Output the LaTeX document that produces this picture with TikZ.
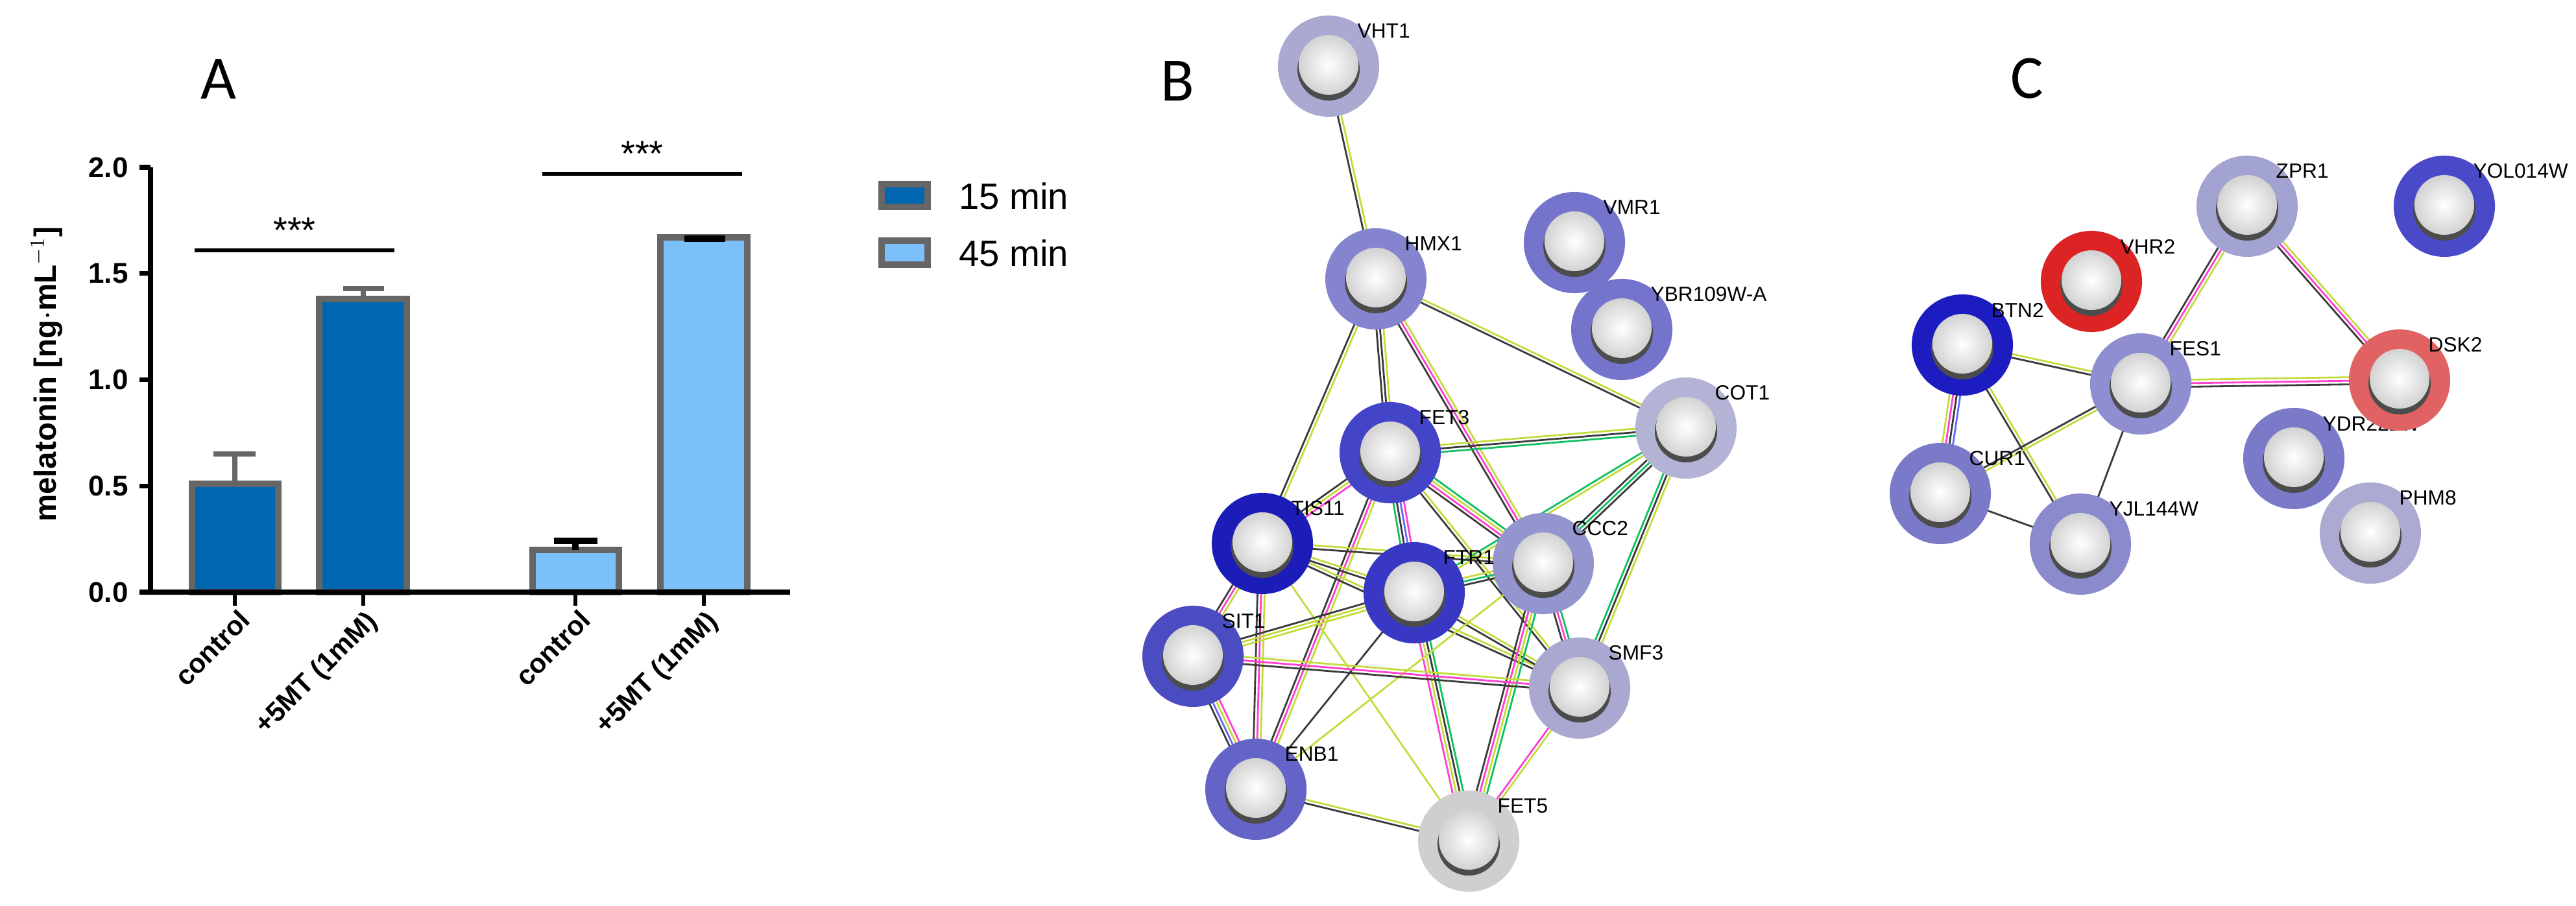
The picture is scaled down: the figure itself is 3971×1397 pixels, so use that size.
\documentclass[tikz,border=0pt]{standalone}
\usepackage{fontspec}
\setmainfont{Liberation Sans}
\newfontfamily\panelfont{Carlito}
\usetikzlibrary{calc,shadings}
\definecolor{db}{HTML}{0066B0}
\definecolor{lb}{HTML}{7CC0FB}
\definecolor{bord}{HTML}{666666}
\definecolor{ek}{HTML}{3A3A3A}
\definecolor{ey}{HTML}{C3DC3C}
\definecolor{em}{HTML}{FF40D0}
\definecolor{eg}{HTML}{10C060}
\definecolor{eb}{HTML}{6868FF}
\pgfdeclarelayer{background}
\pgfsetlayers{background,main}
\newcommand\edg[4]{%
 \foreach \ecol [count=\eidx] in {#4}{%
  \pgfmathsetmacro\eoff{(\eidx-(#3+1)/2)*0.055}%
  \draw[\ecol, line width=0.8pt] ($(#1.center)!\eoff cm!90:(#2.center)$) -- ($(#2.center)!\eoff cm!-90:(#1.center)$);}}
\newcommand\prot[5]{%
 \definecolor{c#1}{HTML}{#4}%
 \node[circle, minimum size=1.56cm, fill=c#1, inner sep=0pt] (#1) at (#2,#3) {};
 \fill[gray!60!black] (#1.center) ++(0,5) circle (0.48cm);
 \shade[inner color=white, outer color=gray!35] (#1.center) ++(0,-2) circle (0.46cm);
 \node[lab] at ($(#1.center)+(44,-54)$) {#5};}
\tikzset{lab/.style={anchor=west, font=\fontsize{9}{10}\selectfont, inner sep=0pt},
 bar/.style={draw=bord, line width=2.6pt},
 tl/.style={anchor=east, font=\bfseries\fontsize{12.5}{14}\selectfont},
 xl/.style={anchor=east, rotate=45, font=\bfseries\fontsize{12}{14}\selectfont, inner sep=0pt},
 panel/.style={font=\panelfont\fontsize{27}{30}\selectfont}}
\begin{document}
\begin{tikzpicture}[x=0.01cm,y=-0.01cm]
\useasboundingbox (0,0) rectangle (3971,1397);
%% Panel A
\node[panel] at (337,122) {A};
\draw[bar, fill=db] (296,913) rectangle (429,746);
\draw[bar, fill=db] (492,913) rectangle (627,461);
\draw[bar, fill=lb] (821,913) rectangle (954,848);
\draw[bar, fill=lb] (1018,913) rectangle (1152,366);
\draw[bord, line width=2pt] (362,746) -- (362,700) (329,700) -- (394,700);
\draw[bord, line width=2pt] (560,461) -- (560,445) (529,445) -- (592,445);
\draw[black, line width=3pt] (887,848) -- (887,834) (854,834) -- (921,834);
\draw[black, line width=3pt] (1055,368) -- (1118,368);
\draw[line width=2pt] (232,258) -- (232,913) -- (1218,913);
\foreach \v/\t in {0/0.0,0.5/0.5,1/1.0,1.5/1.5,2/2.0}{
  \draw[line width=2pt] (215,913-\v*327.5) -- (232,913-\v*327.5);
  \node[tl] at (210,913-\v*327.5) {\t};}
\foreach \x in {362,560,887,1085} \draw[line width=1.6pt] (\x,913) -- (\x,934);
\node[xl] at (378,948) {control};
\node[xl] at (576,952) {+5MT (1mM)};
\node[xl] at (903,948) {control};
\node[xl] at (1101,952) {+5MT (1mM)};
\node[rotate=90, font=\bfseries\fontsize{13.5}{15}\selectfont] at (72,577) {melatonin [ng$\cdot$mL$^{-1}$]};
\draw[line width=1.6pt] (300,386) -- (608,386);
\node[font=\fontsize{16}{18}\selectfont] at (454,355) {***};
\draw[line width=1.6pt] (836,268) -- (1144,268);
\node[font=\fontsize{16}{18}\selectfont] at (990,237) {***};
\draw[bar, fill=db] (1359,284) rectangle (1430,319);
\draw[bar, fill=lb] (1359,371) rectangle (1430,408);
\node[anchor=west, font=\fontsize{16}{18}\selectfont] at (1466,302) {15 min};
\node[anchor=west, font=\fontsize{16}{18}\selectfont] at (1466,390) {45 min};
%% Panel B
\node[panel] at (1815,125) {B};
\prot{VHT1}{2048}{102}{A9A9D2}{VHT1}
\prot{HMX1}{2121}{430}{8585CF}{HMX1}
\prot{VMR1}{2427}{374}{7474CC}{VMR1}
\prot{YBR}{2500}{508}{7474CC}{YBR109W-A}
\prot{COT1}{2599}{660}{B3B3D6}{COT1}
\prot{FET3}{2143}{698}{4444C8}{FET3}
\prot{TIS11}{1946}{838}{1C1CB8}{TIS11}
\prot{CCC2}{2379}{869}{9494CE}{CCC2}
\prot{FTR1}{2180}{914}{3838C4}{FTR1}
\prot{SIT1}{1839}{1012}{4C4CC2}{SIT1}
\prot{SMF3}{2435}{1061}{A8A8D0}{SMF3}
\prot{ENB1}{1936}{1217}{6464C8}{ENB1}
\prot{FET5}{2264}{1297}{CFCFCF}{FET5}
\begin{pgfonlayer}{background}
\edg{VHT1}{HMX1}{2}{ek,ey}
\edg{HMX1}{TIS11}{2}{ek,ey}
\edg{HMX1}{FET3}{3}{ek,ek,ey}
\edg{HMX1}{CCC2}{3}{ek,em,ey}
\edg{HMX1}{COT1}{2}{ek,ey}
\edg{FET3}{COT1}{3}{eg,ek,ey}
\edg{FET3}{TIS11}{3}{ek,ey,em}
\edg{FET3}{FTR1}{4}{eg,ek,eb,em}
\edg{FET3}{CCC2}{4}{ek,em,ey,eg}
\edg{FET3}{ENB1}{3}{ek,em,ey}
\edg{FET3}{SMF3}{2}{ek,ey}
\edg{COT1}{CCC2}{3}{ek,eg,ek}
\edg{COT1}{SMF3}{3}{eg,ek,ey}
\edg{COT1}{FTR1}{2}{eg,ey}
\edg{TIS11}{FTR1}{2}{ek,ey}
\edg{TIS11}{CCC2}{2}{ek,ey}
\edg{TIS11}{SIT1}{3}{ek,em,ey}
\edg{TIS11}{ENB1}{3}{ek,em,ey}
\edg{TIS11}{SMF3}{2}{ek,ey}
\edg{TIS11}{FET5}{1}{ey}
\edg{FTR1}{CCC2}{3}{ek,eg,ey}
\edg{FTR1}{SIT1}{3}{ek,ey,ey}
\edg{FTR1}{ENB1}{1}{ek}
\edg{FTR1}{SMF3}{2}{ek,ey}
\edg{FTR1}{FET5}{4}{em,ey,ek,eg}
\edg{CCC2}{SMF3}{3}{ek,em,eg}
\edg{CCC2}{FET5}{4}{ek,em,ey,eg}
\edg{CCC2}{ENB1}{1}{ey}
\edg{SIT1}{SMF3}{3}{ek,em,ey}
\edg{SIT1}{ENB1}{4}{ek,eb,ey,em}
\edg{SMF3}{FET5}{2}{em,ey}
\edg{ENB1}{FET5}{2}{ek,ey}
\end{pgfonlayer}
%% Panel C
\node[panel] at (3125,121) {C};
\prot{ZPR1}{3464}{318}{A3A3D2}{ZPR1}
\prot{YOL}{3768}{318}{4A4AC8}{YOL014W}
\prot{VHR2}{3224}{434}{DD2424}{VHR2}
\prot{BTN2}{3025}{532}{1C1CC0}{BTN2}
\prot{FES1}{3300}{592}{8E8ED0}{FES1}
\prot{CUR1}{2991}{761}{7A7AC8}{CUR1}
\prot{YJL}{3207}{839}{8A8ACC}{YJL144W}
\prot{YDR}{3536}{707}{7A7AC8}{YDR222W}
\prot{PHM8}{3654}{822}{AAAAD2}{PHM8}
\prot{DSK2}{3699}{586}{E06262}{DSK2}
\begin{pgfonlayer}{background}
\edg{ZPR1}{FES1}{3}{ek,em,ey}
\edg{ZPR1}{DSK2}{3}{ek,em,ey}
\edg{FES1}{DSK2}{3}{ek,em,ey}
\edg{BTN2}{FES1}{2}{ek,ey}
\edg{BTN2}{CUR1}{4}{ey,em,ek,eb}
\edg{BTN2}{YJL}{2}{ek,ey}
\edg{FES1}{CUR1}{2}{ek,ey}
\edg{FES1}{YJL}{1}{ek}
\edg{CUR1}{YJL}{1}{ek}
\end{pgfonlayer}
\end{tikzpicture}
\end{document}
